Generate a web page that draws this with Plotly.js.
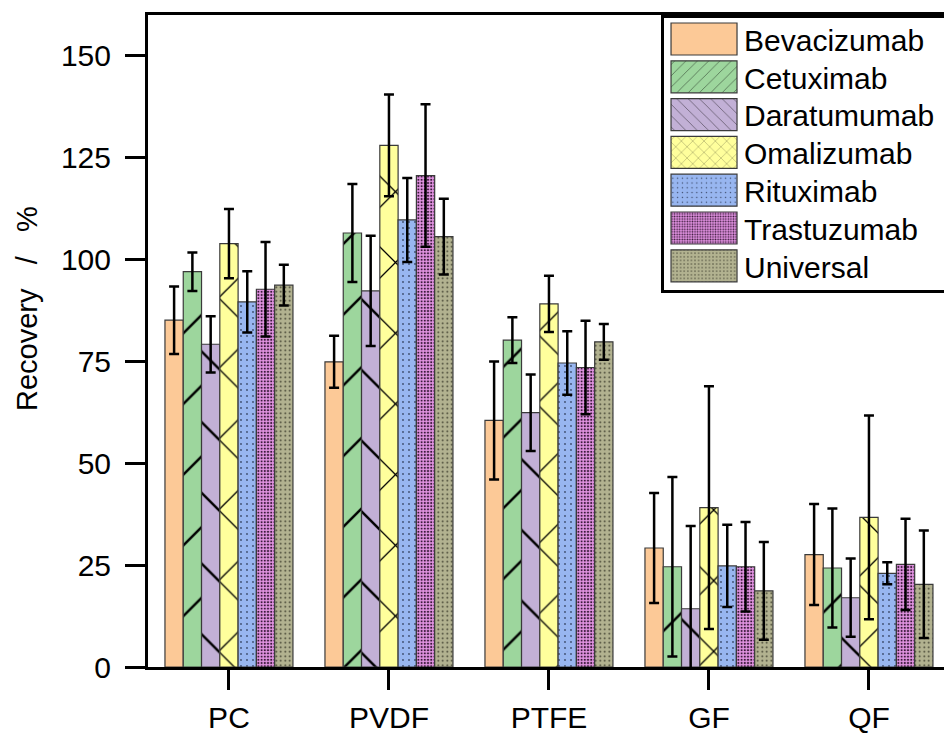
<!DOCTYPE html>
<html>
<head>
<meta charset="utf-8">
<script src="https://cdn.plot.ly/plotly-3.0.1.min.js"></script>
<style>
  html, body { margin: 0; padding: 0; background: #ffffff; }
  #chart { width: 944px; height: 733px; }
</style>
</head>
<body>
<div id="chart"></div>
<script>
// Membrane materials on the x axis
const categories = ['PC', 'PVDF', 'PTFE', 'GF', 'QF'];

// Antibody names (legend order)
const seriesNames = ['Bevacizumab', 'Cetuximab', 'Daratumumab', 'Omalizumab',
                     'Rituximab', 'Trastuzumab', 'Universal'];

// Mean recovery (%) per membrane
const bevacizumab = [85.1, 74.9, 60.5, 29.2, 27.6];
const cetuximab   = [97.0, 106.5, 80.2, 24.6, 24.3];
const daratumumab = [79.2, 92.3, 62.4, 14.3, 17.0];
const omalizumab  = [103.9, 128.0, 89.1, 39.1, 36.7];
const rituximab   = [89.6, 109.7, 74.6, 24.8, 23.0];
const trastuzumab = [92.7, 120.6, 73.5, 24.6, 25.2];
const universal   = [93.7, 105.6, 79.8, 18.7, 20.3];

// Standard deviations (%)
const bevacizumabSd = [8.3, 6.4, 14.5, 13.5, 12.4];
const cetuximabSd   = [4.7, 12.0, 5.6, 22.0, 14.6];
const daratumumabSd = [6.9, 13.5, 9.4, 20.3, 9.6];
const omalizumabSd  = [8.5, 12.5, 6.9, 29.8, 25.0];
const rituximabSd   = [7.5, 10.3, 7.8, 10.1, 2.7];
const trastuzumabSd = [11.6, 17.5, 11.5, 11.0, 11.2];
const universalSd   = [5.0, 9.3, 4.4, 12.0, 13.2];

const yTickVals = [0, 25, 50, 75, 100, 125, 150];

const means = [bevacizumab, cetuximab, daratumumab, omalizumab, rituximab, trastuzumab, universal];
const sds = [bevacizumabSd, cetuximabSd, daratumumabSd, omalizumabSd, rituximabSd, trastuzumabSd, universalSd];

// Fill colour and hatch style for each antibody
const fills = [
  { color: '#fcc997', pattern: { shape: '' } },
  { color: '#9dd69d', pattern: { shape: '/', size: 50, solidity: 0.05, fgcolor: '#000000', bgcolor: '#9dd69d' } },
  { color: '#c2b0d6', pattern: { shape: '\\', size: 50, solidity: 0.05, fgcolor: '#000000', bgcolor: '#c2b0d6' } },
  { color: '#ffff9c', pattern: { shape: 'x', size: 50, solidity: 0.05, fgcolor: '#000000', bgcolor: '#ffff9c' } },
  { color: '#98b6f0', pattern: { shape: '.', size: 6, solidity: 0.07, fgcolor: '#3c4a6a', bgcolor: '#98b6f0' } },
  { color: '#c97bc9', pattern: { shape: '.', size: 3.2, solidity: 0.35, fgcolor: '#3a1a3a', bgcolor: '#e394e3' } },
  { color: '#aeae8c', pattern: { shape: '.', size: 4.5, solidity: 0.12, fgcolor: '#3c3c2c', bgcolor: '#b2b290' } }
];

const FONT = 'Arial, "Liberation Sans", sans-serif';
const NB = '\u00a0';

const traces = seriesNames.map((name, i) => ({
  type: 'bar',
  name: name,
  x: categories,
  y: means[i],
  marker: {
    color: fills[i].color,
    pattern: fills[i].pattern,
    line: { color: '#3a3a3a', width: 1.2 }
  },
  error_y: {
    type: 'data',
    array: sds[i],
    visible: true,
    color: '#000000',
    thickness: 2.5,
    width: 5
  }
}));

const layout = {
  width: 944,
  height: 733,
  margin: { l: 148, r: 0, t: 15, b: 66 },
  paper_bgcolor: '#ffffff',
  plot_bgcolor: '#ffffff',
  font: { family: FONT, color: '#000000', size: 30 },
  barmode: 'group',
  bargap: 0.2,
  bargroupgap: 0,
  showlegend: true,
  legend: {
    x: 0.6445, xanchor: 'left',
    y: 1, yanchor: 'top',
    bgcolor: '#ffffff',
    bordercolor: '#000000',
    borderwidth: 3,
    font: { family: FONT, size: 30, color: '#000000' },
    itemwidth: 70,
    tracegroupgap: 0
  },
  xaxis: {
    type: 'category',
    range: [-0.506, 4.469],
    showline: true,
    linecolor: '#000000',
    linewidth: 3,
    mirror: true,
    ticks: 'outside',
    ticklen: 20,
    tickwidth: 3,
    tickcolor: '#000000',
    ticklabelstandoff: 2,
    tickfont: { family: FONT, size: 30, color: '#000000' },
    showgrid: false,
    zeroline: false,
    fixedrange: true
  },
  yaxis: {
    range: [0, 160],
    tickvals: yTickVals,
    ticktext: yTickVals.map(String),
    showline: true,
    linecolor: '#000000',
    linewidth: 3,
    ticks: 'outside',
    ticklen: 20,
    tickwidth: 3,
    tickcolor: '#000000',
    ticklabelstandoff: 8,
    tickfont: { family: FONT, size: 30, color: '#000000' },
    showgrid: false,
    zeroline: false,
    fixedrange: true
  },
  annotations: [{
    text: 'Recovery' + NB + NB + NB + '/' + NB + NB + NB + '%',
    xref: 'paper', yref: 'paper',
    x: -121 / 796, y: (667 - 309) / 652,
    xanchor: 'center', yanchor: 'middle',
    textangle: -90,
    showarrow: false,
    font: { family: FONT, size: 29, color: '#000000' }
  }]
};

const ROW_PITCH = 37.8;

const gd = document.getElementById('chart');
Plotly.newPlot(gd, traces, layout, { staticPlot: true, displayModeBar: false }).then(() => {
  // wide rectangular legend swatches
  gd.querySelectorAll('.legend .legendpoints path').forEach(p => {
    p.setAttribute('d', 'M33,16H-33V-16H33Z');
  });

  // tighter legend rows
  const items = Array.from(gd.querySelectorAll('.legend .traces'));
  if (!items.length) return;
  const parse = el => {
    const m = /translate\(\s*([-\d.]+)[ ,]+([-\d.]+)/.exec(el.getAttribute('transform') || '');
    return m ? [parseFloat(m[1]), parseFloat(m[2])] : [0, 0];
  };
  const first = parse(items[0]);
  const lastOld = parse(items[items.length - 1])[1];
  const y0 = first[1] - 5;
  items.forEach((el, i) => {
    const [x] = parse(el);
    el.setAttribute('transform', 'translate(' + x + ',' + (y0 + i * ROW_PITCH) + ')');
  });
  const lastNew = y0 + (items.length - 1) * ROW_PITCH;
  const bg = gd.querySelector('.legend rect.bg');
  if (bg) {
    const h = parseFloat(bg.getAttribute('height'));
    const w = parseFloat(bg.getAttribute('width'));
    bg.setAttribute('height', h - (lastOld - lastNew) - 2);
    bg.setAttribute('width', w + 40);
  }
});
</script>
</body>
</html>
